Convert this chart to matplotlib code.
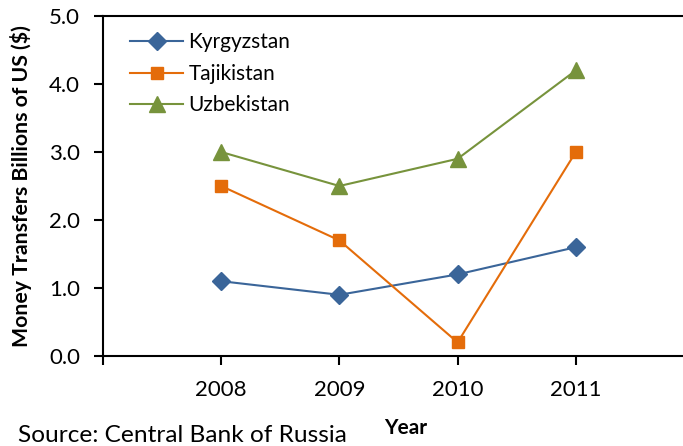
import matplotlib
matplotlib.use("Agg")
import matplotlib.pyplot as plt

years = [2008, 2009, 2010, 2011]
kyrgyzstan = [1.1, 0.9, 1.2, 1.6]
tajikistan = [2.5, 1.7, 0.2, 3.0]
uzbekistan = [3.0, 2.5, 2.9, 4.2]

plt.rcParams['font.family'] = ['Lato', 'DejaVu Sans']

W, H = 683, 446
fig = plt.figure(figsize=(W/100, H/100), dpi=100)
left, right, top, bottom = 103, 694, 16, 356
ax = fig.add_axes([left/W, 1 - bottom/H, (right-left)/W, (bottom-top)/H])

ax.plot(years, kyrgyzstan, color='#3A6599', marker='D', markersize=9.5, lw=1.5, label='Kyrgyzstan', clip_on=False)
ax.plot(years, tajikistan, color='#E46C0A', marker='s', markersize=9, lw=1.5, label='Tajikistan', clip_on=False)
ax.plot(years, uzbekistan, color='#77933C', marker='^', markersize=11, lw=1.5, label='Uzbekistan', clip_on=False)

ax.set_xlim(2007, 2012)
ax.set_ylim(0, 5)
ax.set_xticks([2007, 2008, 2009, 2010, 2011, 2012])
ax.set_xticklabels(['', '2008', '2009', '2010', '2011', ''])
ax.set_yticks([0, 1, 2, 3, 4, 5])
ax.set_yticklabels([f'{v:.1f}' for v in [0, 1, 2, 3, 4, 5]])
ax.spines['right'].set_visible(False)
for s in ['left', 'bottom', 'top']:
    ax.spines[s].set_linewidth(1.5)
ax.tick_params(axis='both', direction='out', length=6.5, width=1.5, labelsize=16, colors='black')
ax.tick_params(axis='x', pad=11)
ax.tick_params(axis='y', pad=10)

ax.set_ylabel('Money Transfers Billions of US ($)', fontsize=15.3, fontweight='bold', labelpad=4)
ax.yaxis.set_label_coords(-(left - 32) / (right - left), 0.5)
fig.text(406/W, 1 - 428/H, 'Year', fontsize=15, fontweight='bold', ha='center', va='center')
fig.text(18/W, 1 - 435/H, 'Source: Central Bank of Russia', fontsize=17.6, ha='left', va='center')

leg = ax.legend(loc='upper left', bbox_to_anchor=(0.032, 0.976), frameon=False, fontsize=15,
                handlelength=2.55, labelspacing=0.55, handletextpad=0.25, borderaxespad=0)

fig.savefig('out.png', dpi=100)
